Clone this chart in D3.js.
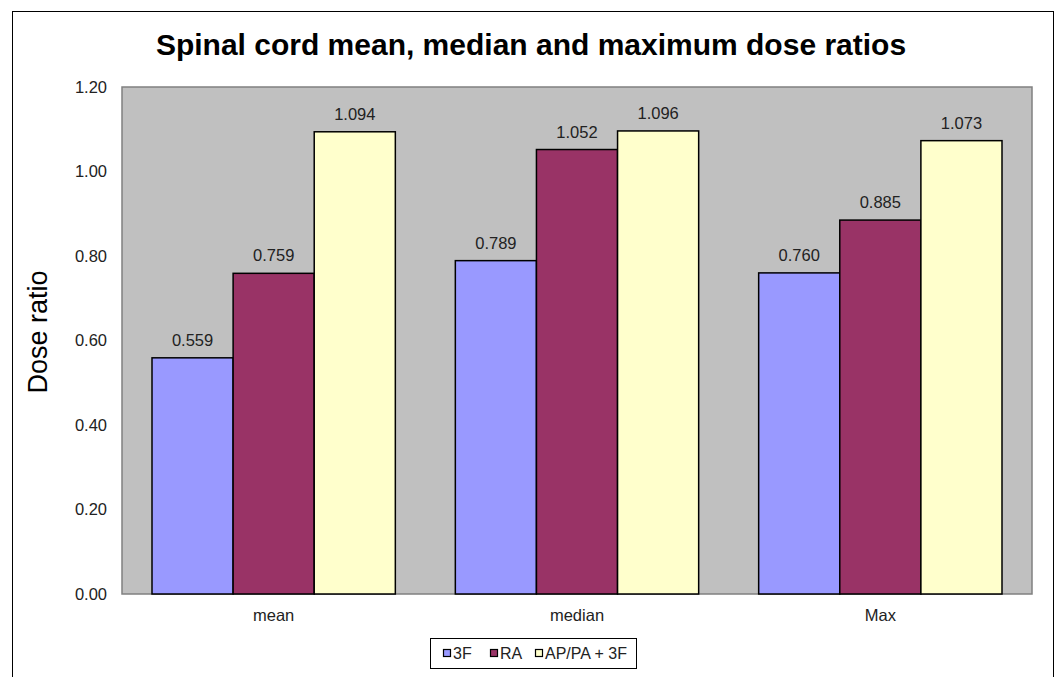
<!DOCTYPE html>
<html>
<head>
<meta charset="utf-8">
<script src="https://cdn.jsdelivr.net/npm/d3@7"></script>
<style>
  html, body { margin: 0; padding: 0; background: #fff; }
  svg { display: block; font-family: Arial, "Liberation Sans", sans-serif; }
</style>
</head>
<body>
<svg id="chart" width="1056" height="677"></svg>
<script>
const categories = ["mean", "median", "Max"];
const seriesNames = ["3F", "RA", "AP/PA + 3F"];
const series3F = [0.559, 0.789, 0.760];
const seriesRA = [0.759, 1.052, 0.885];
const seriesAPPA = [1.094, 1.096, 1.073];
const yTicks = [0, 0.2, 0.4, 0.6, 0.8, 1.0, 1.2];
const colors = ["#9999FF", "#993366", "#FFFFCC"];

const seriesValues = [series3F, seriesRA, seriesAPPA];
const svg = d3.select("#chart");

// outer frame
svg.append("rect").attr("x", 12.5).attr("y", 11.5).attr("width", 1041).attr("height", 700)
  .attr("fill", "#fff").attr("stroke", "#000").attr("stroke-width", 1);

const plot = { left: 122, right: 1032, top: 87, bottom: 594 };

const x0 = d3.scaleBand().domain(categories).range([plot.left, plot.right]).paddingInner(0).paddingOuter(0);
const x1 = d3.scaleBand().domain(seriesNames).range([30, x0.bandwidth() - 30]).padding(0);
const y = d3.scaleLinear().domain([0, 1.2]).range([plot.bottom, plot.top]);

// plot area
svg.append("rect").attr("x", plot.left).attr("y", plot.top)
  .attr("width", plot.right - plot.left).attr("height", plot.bottom - plot.top)
  .attr("fill", "#C0C0C0").attr("stroke", "#808080").attr("stroke-width", 1.5);

// title
svg.append("text").attr("x", 531).attr("y", 55).attr("text-anchor", "middle")
  .attr("font-size", 30).attr("font-weight", "bold").attr("fill", "#000")
  .text("Spinal cord mean, median and maximum dose ratios");

// y axis
const yAxis = d3.axisLeft(y).tickValues(yTicks).tickFormat(d3.format(".2f")).tickSize(0).tickPadding(15);
const yg = svg.append("g").attr("transform", `translate(${plot.left},0)`).call(yAxis);
yg.select(".domain").remove();
yg.selectAll("text").attr("font-size", 16.5).attr("fill", "#222").attr("font-family", "Arial, 'Liberation Sans', sans-serif");

// y title
svg.append("text").attr("transform", `translate(47, 332) rotate(-90)`)
  .attr("text-anchor", "middle").attr("font-size", 27).attr("fill", "#000").text("Dose ratio");

// x axis
const xAxis = d3.axisBottom(x0).tickSize(0).tickPadding(15);
const xg = svg.append("g").attr("transform", `translate(0,${plot.bottom})`).call(xAxis);
xg.select(".domain").remove();
xg.selectAll("text").attr("font-size", 16.5).attr("fill", "#222").attr("font-family", "Arial, 'Liberation Sans', sans-serif");

// bars
const groups = svg.selectAll("g.grp").data(categories).enter().append("g")
  .attr("class", "grp").attr("transform", d => `translate(${x0(d)},0)`);

groups.each(function(cat, ci) {
  const g = d3.select(this);
  seriesNames.forEach((s, si) => {
    const v = seriesValues[si][ci];
    g.append("rect").attr("x", x1(s)).attr("y", y(v))
      .attr("width", x1.bandwidth()).attr("height", y(0) - y(v))
      .attr("fill", colors[si]).attr("stroke", "#000").attr("stroke-width", 1.5);
    g.append("text").attr("x", x1(s) + x1.bandwidth() / 2).attr("y", y(v) - 12)
      .attr("text-anchor", "middle").attr("font-size", 16.5).attr("fill", "#222")
      .text(d3.format(".3f")(v));
  });
});

// legend
const lg = svg.append("g");
lg.append("rect").attr("x", 430.5).attr("y", 638.5).attr("width", 206).attr("height", 30)
  .attr("fill", "#fff").attr("stroke", "#000").attr("stroke-width", 1);
const legX = [443, 490, 535];
seriesNames.forEach((s, i) => {
  lg.append("rect").attr("x", legX[i] + 0.5).attr("y", 649.5).attr("width", 7).attr("height", 7)
    .attr("fill", colors[i]).attr("stroke", "#000").attr("stroke-width", 1.2);
  lg.append("text").attr("x", legX[i] + 10).attr("y", 659).attr("font-size", 16).attr("fill", "#222").text(s);
});
</script>
</body>
</html>
